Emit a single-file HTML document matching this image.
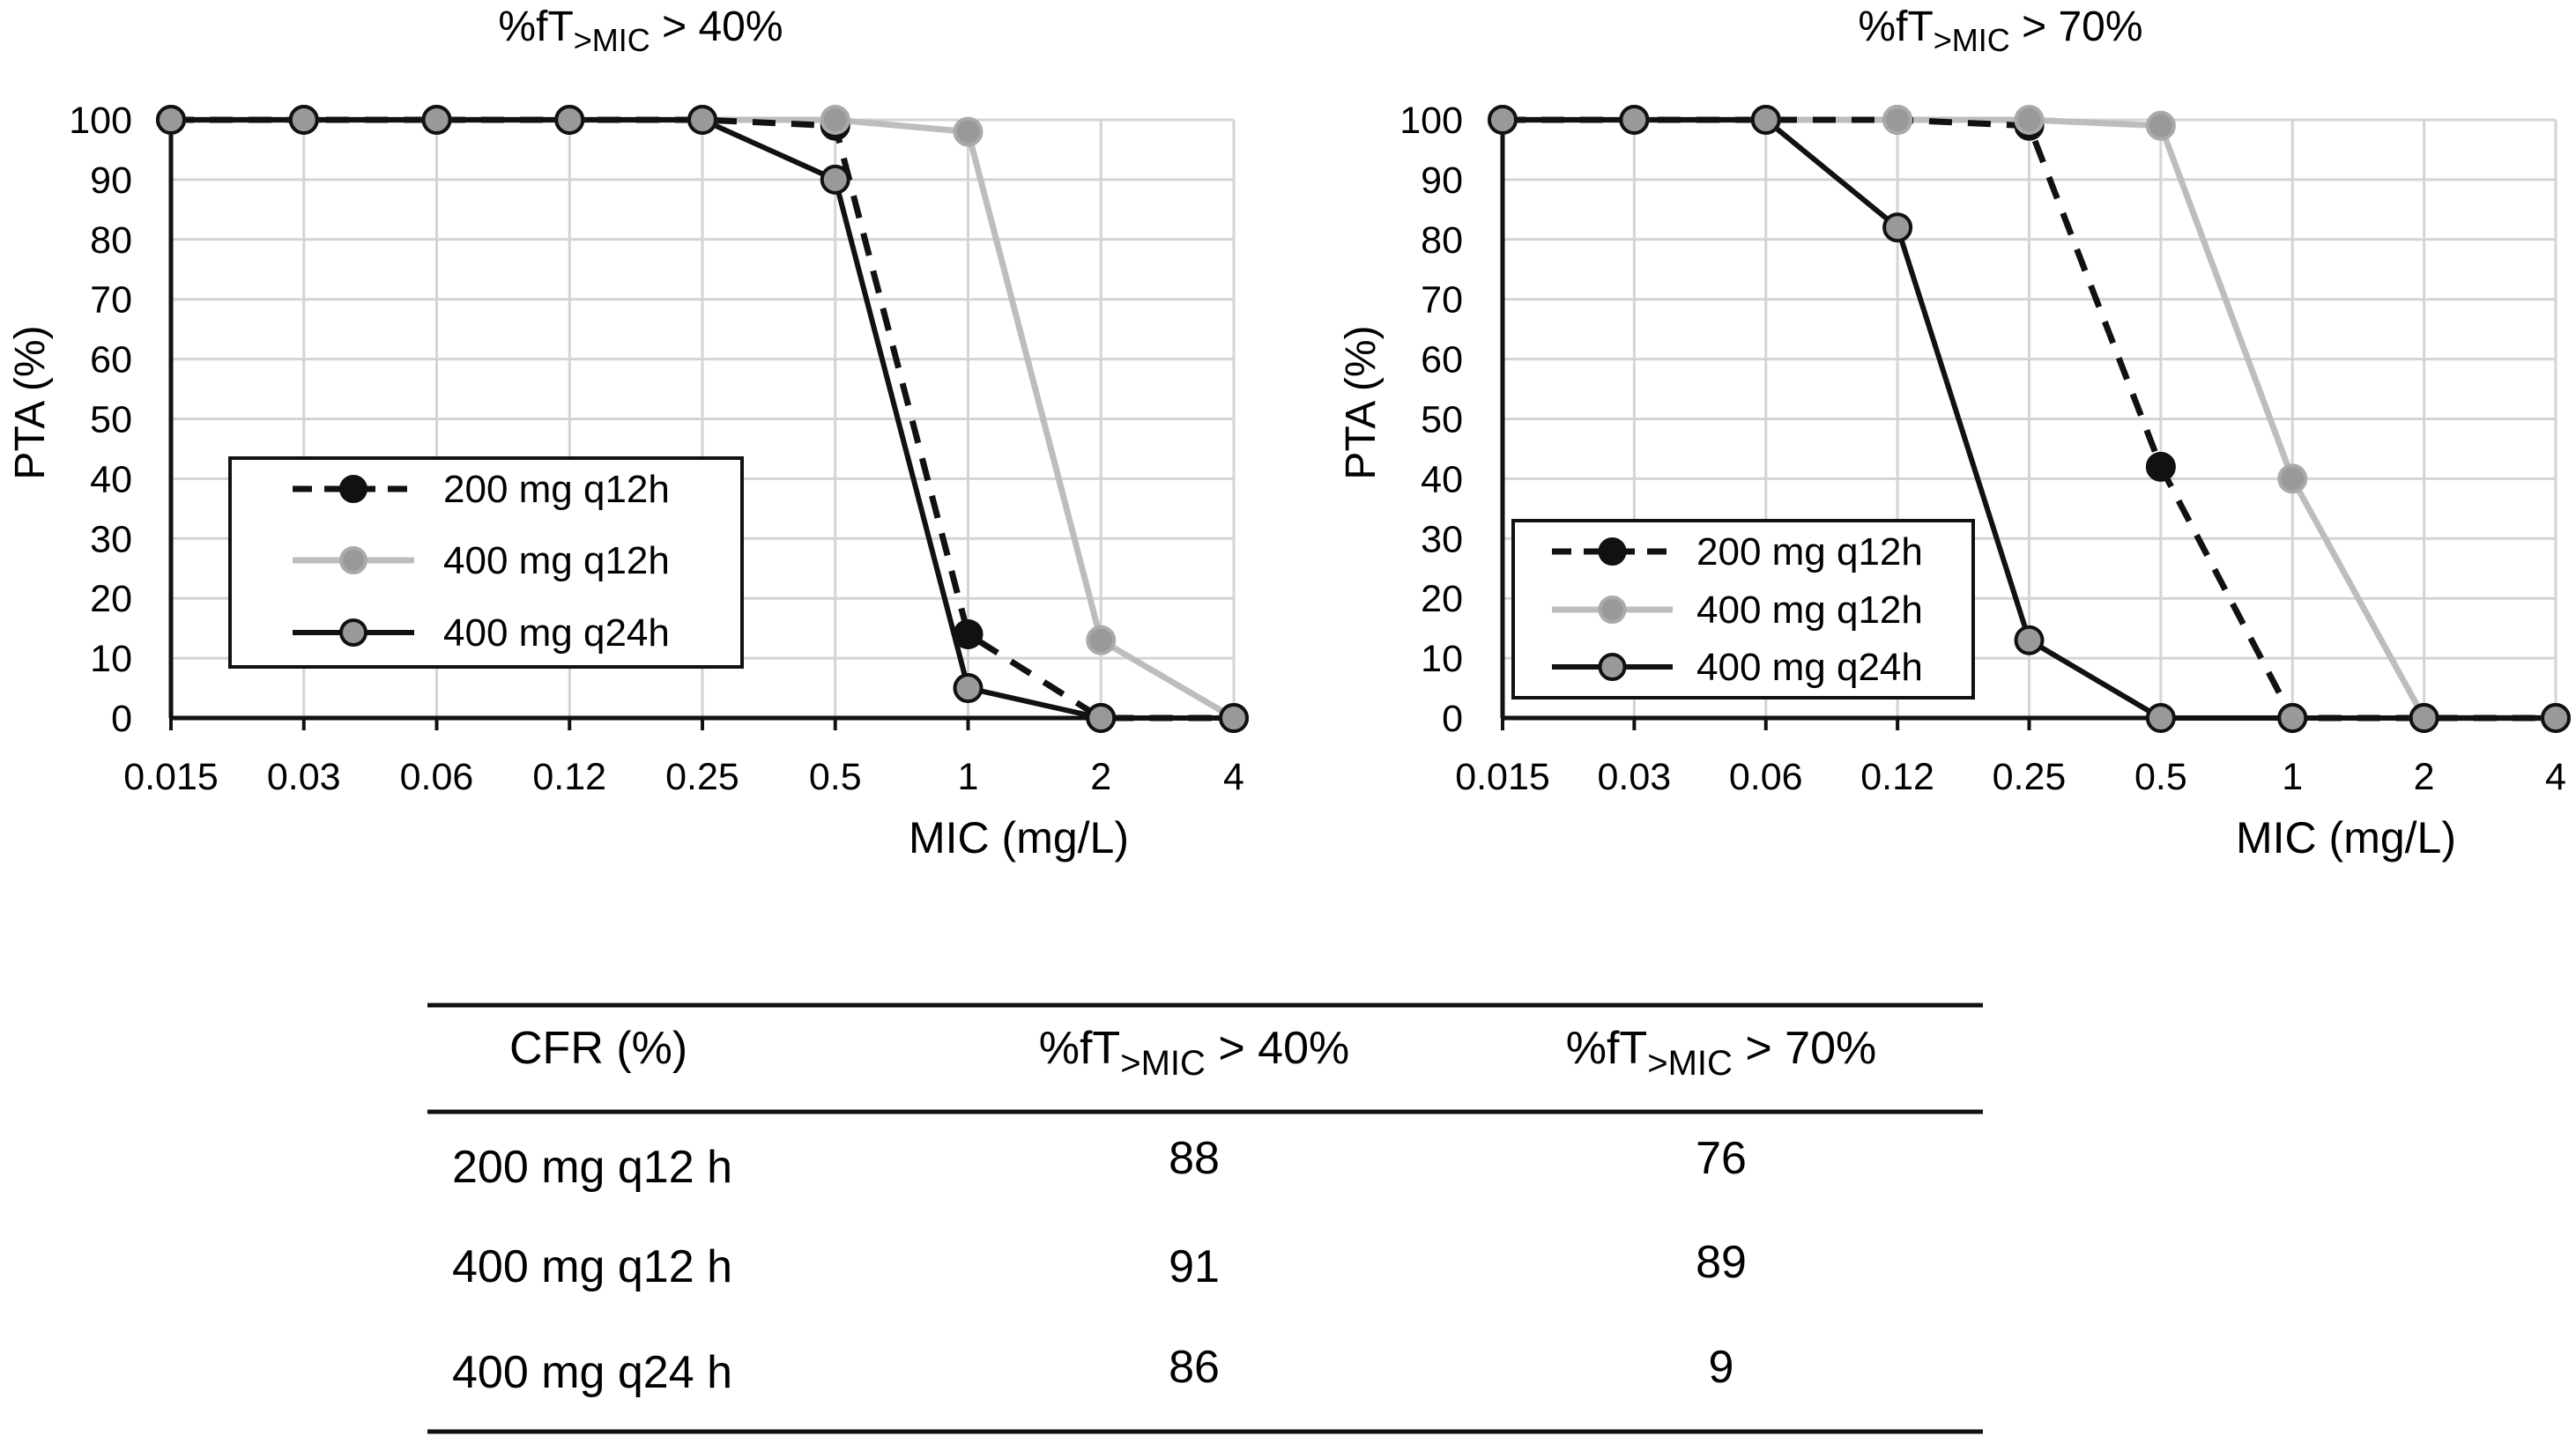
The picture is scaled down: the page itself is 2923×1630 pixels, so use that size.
<!DOCTYPE html>
<html><head><meta charset="utf-8">
<style>
html,body{margin:0;padding:0;background:#fff;}
svg{display:block;font-family:"Liberation Sans",Arial,sans-serif;}
</style></head>
<body>
<svg id="fig" width="2923" height="1630" viewBox="0 0 2923 1630" xmlns="http://www.w3.org/2000/svg">
<g id="left"></g>
<g id="right"></g>
<g id="table">
  <line x1="485" y1="1141" x2="2250" y2="1141" stroke="#111" stroke-width="5"/>
  <line x1="485" y1="1262" x2="2250" y2="1262" stroke="#111" stroke-width="5"/>
  <line x1="485" y1="1625" x2="2250" y2="1625" stroke="#111" stroke-width="5"/>
  <text x="578" y="1207" font-size="52">CFR (%)</text>
  <text x="1355" y="1207" font-size="52" text-anchor="middle">%fT<tspan font-size="40" dy="13">&gt;MIC</tspan><tspan dy="-13"> &gt; 40%</tspan></text>
  <text x="1953" y="1207" font-size="52" text-anchor="middle">%fT<tspan font-size="40" dy="13">&gt;MIC</tspan><tspan dy="-13"> &gt; 70%</tspan></text>
  <text x="513" y="1342" font-size="52">200 mg q12 h</text>
  <text x="1355" y="1332" font-size="52" text-anchor="middle">88</text>
  <text x="1953" y="1332" font-size="52" text-anchor="middle">76</text>
  <text x="513" y="1455" font-size="52">400 mg q12 h</text>
  <text x="1355" y="1455" font-size="52" text-anchor="middle">91</text>
  <text x="1953" y="1450" font-size="52" text-anchor="middle">89</text>
  <text x="513" y="1575" font-size="52">400 mg q24 h</text>
  <text x="1355" y="1569" font-size="52" text-anchor="middle">86</text>
  <text x="1953" y="1569" font-size="52" text-anchor="middle">9</text>
</g>
</svg>
<script>
const categories = ["0.015","0.03","0.06","0.12","0.25","0.5","1","2","4"];
const yTicks = [0,10,20,30,40,50,60,70,80,90,100];
const seriesNames = ["200 mg q12h","400 mg q12h","400 mg q24h"];
const left200q12 = [100,100,100,100,100,99,14,0,0];
const left400q12 = [100,100,100,100,100,100,98,13,0];
const left400q24 = [100,100,100,100,100,90,5,0,0];
const right200q12 = [100,100,100,100,99,42,0,0,0];
const right400q12 = [100,100,100,100,100,99,40,0,0];
const right400q24 = [100,100,100,82,13,0,0,0,0];

const NS = "http://www.w3.org/2000/svg";
function mk(parent, tag, attrs){
  const e = document.createElementNS(NS, tag);
  for (const k in attrs) e.setAttribute(k, attrs[k]);
  parent.appendChild(e); return e;
}
const styles = [
  {stroke:"#111", width:7, dash:"26 18", mfill:"#111", mstroke:"#111"},
  {stroke:"#bdbdbd", width:7, dash:"", mfill:"#999", mstroke:"#aaa"},
  {stroke:"#111", width:6, dash:"", mfill:"#999", mstroke:"#111"}
];
function drawChart(g, cfg){
  const x0 = cfg.x0, x1 = cfg.x1, yTop = 136, yBot = 815;
  const xs = i => x0 + (x1 - x0) * i / (categories.length - 1);
  const ys = v => yBot - (yBot - yTop) * v / 100;
  yTicks.forEach(t => {
    const l = mk(g, "line", {x1:x0, x2:x1, y1:ys(t), y2:ys(t), stroke:"#d4d4d4", "stroke-width":3});
    
    
    const tx = mk(g, "text", {x:cfg.labelX, y:ys(t)+15, "font-size":43, "text-anchor":"end"});
    tx.textContent = t;
    
    
  });
  categories.forEach((c, i) => {
    const l = mk(g, "line", {x1:xs(i), x2:xs(i), y1:yTop, y2:yBot+14, stroke:"#d4d4d4", "stroke-width":3});
    
    
    const tk = mk(g, "line", {x1:xs(i), x2:xs(i), y1:yBot, y2:yBot+14, stroke:"#111", "stroke-width":4});
    
    
    const tx = mk(g, "text", {x:xs(i), y:896, "font-size":43, "text-anchor":"middle"});
    tx.textContent = c;
    
    
  });
  const ax = mk(g, "line", {x1:x0, x2:x1, y1:yBot, y2:yBot, stroke:"#111", "stroke-width":5});
  
  
  const ay = mk(g, "line", {x1:x0, x2:x0, y1:yTop, y2:yBot, stroke:"#111", "stroke-width":5});
  
  
  const order = [1,0,2];
  order.forEach(si => {
    const data = cfg.series[si], st = styles[si];
    const pts = data.map((v,i) => xs(i)+","+ys(v)).join(" ");
    const pl = mk(g, "polyline", {points:pts, fill:"none", stroke:st.stroke, "stroke-width":st.width, "stroke-dasharray":st.dash, "stroke-linejoin":"round"});
    
    
  });
  [0,1,2].forEach(si => {
    const data = cfg.series[si], st = styles[si];
    data.forEach((v,i) => {
      const c = mk(g, "circle", {cx:xs(i), cy:ys(v), r:15, fill:st.mfill, stroke:st.mstroke, "stroke-width":4});
      
      
    });
  });
  const t = mk(g, "text", {x:cfg.titleX, y:46, "font-size":48, "text-anchor":"middle"});
  t.innerHTML = '%fT<tspan font-size="36" dy="12">&gt;MIC</tspan><tspan dy="-12"> &gt; ' + cfg.title + '</tspan>';
  
  
  const xt = mk(g, "text", {x:cfg.xTitleX, y:968, "font-size":50, "text-anchor":"middle"});
  xt.textContent = "MIC (mg/L)";
  
  
  const yt = mk(g, "text", {x:0, y:0, "font-size":48, "text-anchor":"middle", transform:"translate("+(cfg.yTitleX)+",457) rotate(-90)"});
  yt.textContent = "PTA (%)";
  
  
  const L = cfg.legend;
  const box = mk(g, "rect", {x:L.x, y:L.y, width:L.w, height:L.h, fill:"#fff", stroke:"#111", "stroke-width":4});
  
  
  seriesNames.forEach((n, si) => {
    const st = styles[si], ry = L.rows[si];
    const ln = mk(g, "line", {x1:L.lx1, x2:L.lx2, y1:ry, y2:ry, stroke:st.stroke, "stroke-width":st.width, "stroke-dasharray": si===0 ? "22 14" : ""});
    
    
    const c = mk(g, "circle", {cx:(L.lx1+L.lx2)/2, cy:ry, r:14, fill:st.mfill, stroke:st.mstroke, "stroke-width":4});
    
    
    const tx = mk(g, "text", {x:L.tx, y:ry+15, "font-size":44});
    tx.textContent = n;
    
    
  });
}
drawChart(document.getElementById("left"), {
  x0:194, x1:1400, labelX:150, titleX:727, xTitleX:1156, yTitleX:50, title:"40%",
  series:[left200q12, left400q12, left400q24],
  legend:{x:261, y:520, w:581, h:237, rows:[555,636,718], lx1:332, lx2:470, tx:503}
});
drawChart(document.getElementById("right"), {
  x0:1705, x1:2900, labelX:1660, titleX:2270, xTitleX:2662, yTitleX:1560, title:"70%",
  series:[right200q12, right400q12, right400q24],
  legend:{x:1717, y:591, w:522, h:201, rows:[626,692,757], lx1:1761, lx2:1898, tx:1925}
});
</script>
</body></html>
